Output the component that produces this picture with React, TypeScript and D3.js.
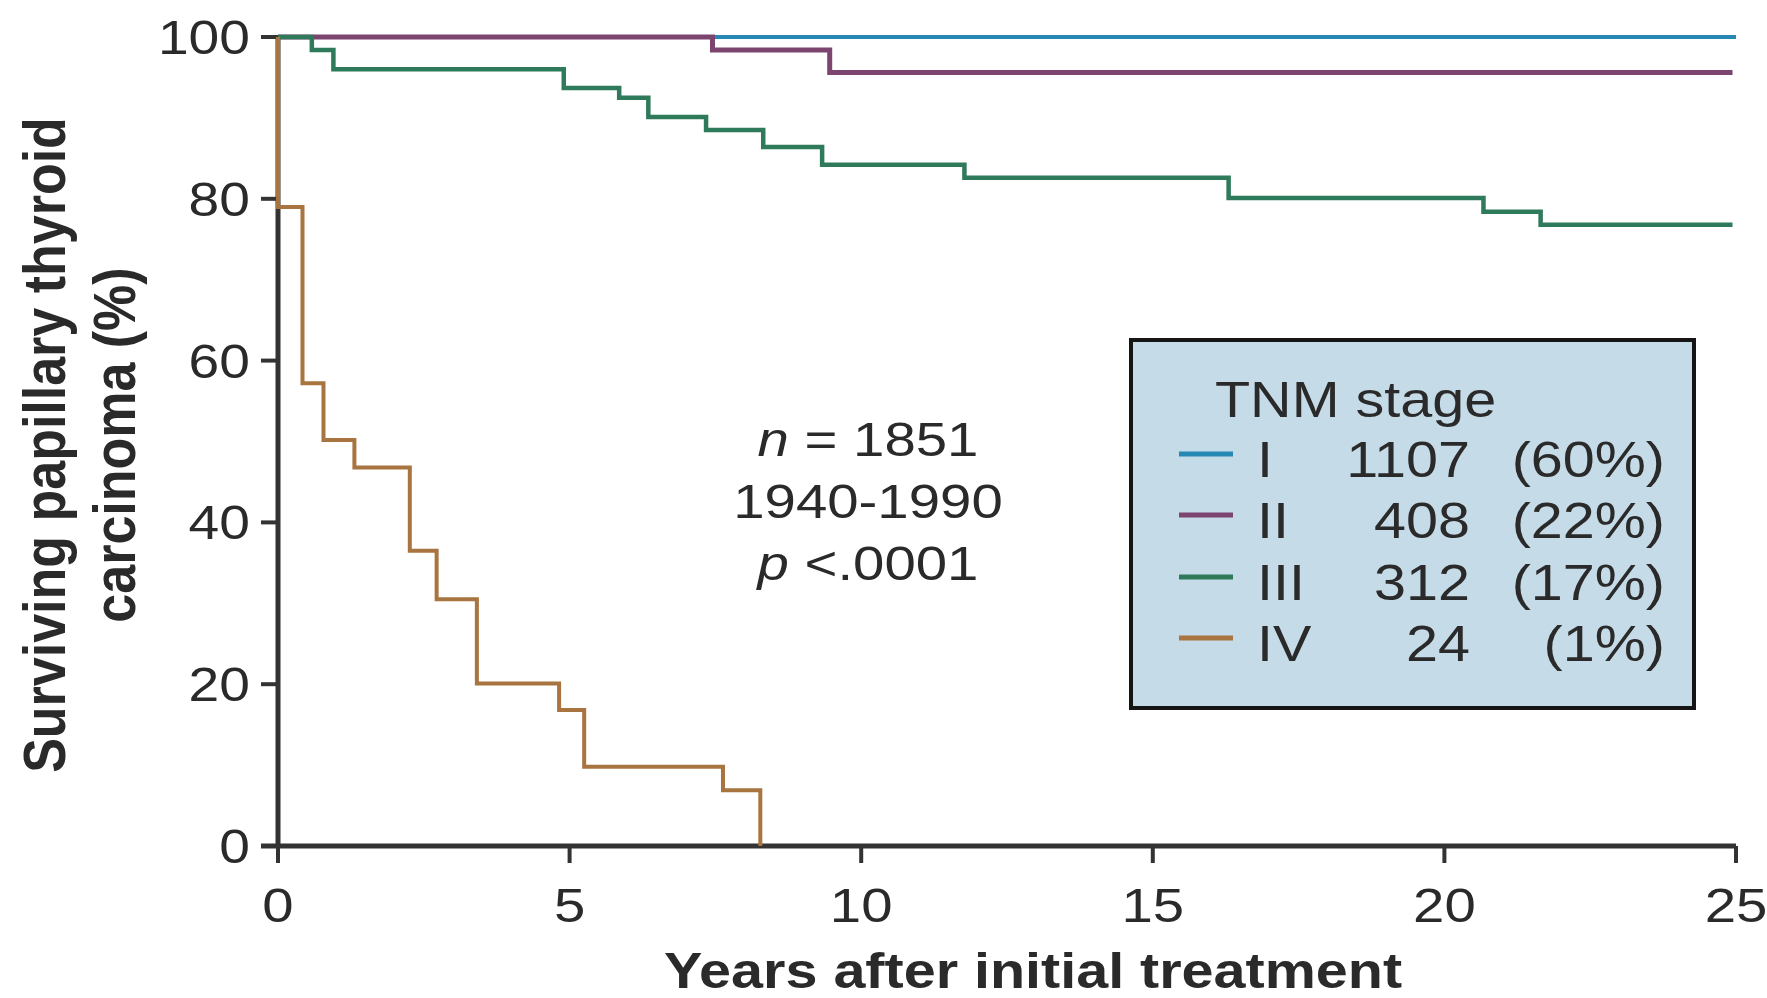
import React from "react";
import * as d3 from "d3";

// ---- Data ----
const xTicks = [0, 5, 10, 15, 20, 25];
const yTicks = [0, 20, 40, 60, 80, 100];

const stageIYears = [0, 25];
const stageISurv = [100, 100];

const stageIIYears = [0, 7.45, 9.46, 24.94];
const stageIISurv = [100, 98.4, 95.6, 95.6];

const stageIIIYears = [0, 0.58, 0.95, 4.9, 5.85, 6.35, 7.34, 8.32, 9.33, 11.77, 16.3, 20.67, 21.65, 24.94];
const stageIIISurv = [100, 98.4, 96.0, 93.7, 92.5, 90.1, 88.5, 86.4, 84.2, 82.6, 80.1, 78.4, 76.8, 76.8];

const stageIVYears = [0, 0, 0.42, 0.78, 1.31, 2.26, 2.72, 3.41, 4.82, 5.25, 7.63, 8.27];
const stageIVSurv = [100, 79, 57.2, 50.2, 46.8, 36.5, 30.5, 20.1, 16.8, 9.8, 6.9, 0];

const stageLabels = ["I", "II", "III", "IV"];
const stageCounts = ["1107", "408", "312", "24"];
const stagePercents = ["(60%)", "(22%)", "(17%)", "(1%)"];
const stageColors = ["#2789b3", "#7b4570", "#2f7a5a", "#a8743f"];
const stageWidths = [4, 5, 4.5, 4];

const W = 1767;
const H = 998;
const FONT = "'Liberation Sans', Arial, Helvetica, sans-serif";
const SX = 1.15; // horizontal stretch of the reference image
const TXT = "#2a2a2a";

export default function App() {
  const x = d3.scaleLinear().domain([0, 25]).range([278, 1736]);
  const y = d3.scaleLinear().domain([0, 100]).range([846, 37]);

  const line = d3
    .line<[number, number]>()
    .x((d) => x(d[0]))
    .y((d) => y(d[1]))
    .curve(d3.curveStepAfter);

  const series = [
    { years: stageIYears, surv: stageISurv },
    { years: stageIIYears, surv: stageIISurv },
    { years: stageIIIYears, surv: stageIIISurv },
    { years: stageIVYears, surv: stageIVSurv },
  ];

  const axisColor = "#333";
  const x0 = x(0);
  const y0 = y(0);

  const stretched = (tx: number, ty: number) => `translate(${tx},${ty}) scale(${SX},1)`;

  // legend geometry
  const lgX = 1131, lgY = 340, lgW = 563, lgH = 368;
  const rowBase = [477, 538, 600, 661];

  return (
    <svg
      width={W}
      height={H}
      viewBox={`0 0 ${W} ${H}`}
      style={{ position: "absolute", left: 0, top: 0, background: "#fff" }}
      fontFamily={FONT}
    >
      {/* axes */}
      <line x1={x0} x2={x0} y1={y(100)} y2={y0} stroke={axisColor} strokeWidth={5} />
      <line x1={x0 - 17} x2={x(25)} y1={y0} y2={y0} stroke={axisColor} strokeWidth={5} />
      {yTicks.map((t) => (
        <g key={"yt" + t}>
          <line x1={x0 - 17} x2={x0} y1={y(t)} y2={y(t)} stroke={axisColor} strokeWidth={4} />
          <text
            transform={stretched(250, y(t) + 17)}
            textAnchor="end"
            fontSize={48}
            fill={TXT}
          >
            {t}
          </text>
        </g>
      ))}
      {xTicks.map((t) => (
        <g key={"xt" + t}>
          <line x1={x(t)} x2={x(t)} y1={y0} y2={y0 + 17} stroke={axisColor} strokeWidth={4} />
          <text transform={stretched(x(t), 922)} textAnchor="middle" fontSize={49} fill={TXT}>
            {t}
          </text>
        </g>
      ))}

      {/* curves */}
      {series.map((s, i) => (
        <path
          key={"s" + i}
          d={line(s.years.map((yr, j) => [yr, s.surv[j]] as [number, number])) || ""}
          fill="none"
          stroke={stageColors[i]}
          strokeWidth={stageWidths[i]}
        />
      ))}

      {/* axis titles */}
      <text
        transform={stretched(1033, 988)}
        textAnchor="middle"
        fontSize={50}
        fontWeight="bold"
        fill={TXT}
      >
        Years after initial treatment
      </text>
      <text
        transform={`translate(65,445) rotate(-90) scale(1,${SX})`}
        textAnchor="middle"
        fontSize={52}
        fontWeight="bold"
        fill={TXT}
      >
        Surviving papillary thyroid
      </text>
      <text
        transform={`translate(135,445) rotate(-90) scale(1,${SX})`}
        textAnchor="middle"
        fontSize={52}
        fontWeight="bold"
        fill={TXT}
      >
        carcinoma (%)
      </text>

      {/* annotation */}
      <g fill={TXT} fontSize={49}>
        <text transform={stretched(868, 456)} textAnchor="middle">
          <tspan fontStyle="italic">n</tspan> = 1851
        </text>
        <text transform={stretched(868, 518)} textAnchor="middle">
          1940-1990
        </text>
        <text transform={stretched(868, 580)} textAnchor="middle">
          <tspan fontStyle="italic">p</tspan> &lt;.0001
        </text>
      </g>

      {/* legend */}
      <rect x={lgX} y={lgY} width={lgW} height={lgH} fill="#c6dbe8" stroke="#151515" strokeWidth={4} />
      <text transform={stretched(1215, 417)} fontSize={50} fill={TXT}>
        TNM stage
      </text>
      {stageLabels.map((lab, i) => (
        <g key={"lg" + i}>
          <line
            x1={1179}
            x2={1233}
            y1={rowBase[i] - 23}
            y2={rowBase[i] - 23}
            stroke={stageColors[i]}
            strokeWidth={5}
          />
          <text transform={stretched(1257, rowBase[i])} fontSize={50} fill={TXT}>
            {lab}
          </text>
          <text transform={stretched(1470, rowBase[i])} fontSize={50} fill={TXT} textAnchor="end">
            {stageCounts[i]}
          </text>
          <text transform={stretched(1665, rowBase[i])} fontSize={50} fill={TXT} textAnchor="end">
            {stagePercents[i]}
          </text>
        </g>
      ))}
    </svg>
  );
}
